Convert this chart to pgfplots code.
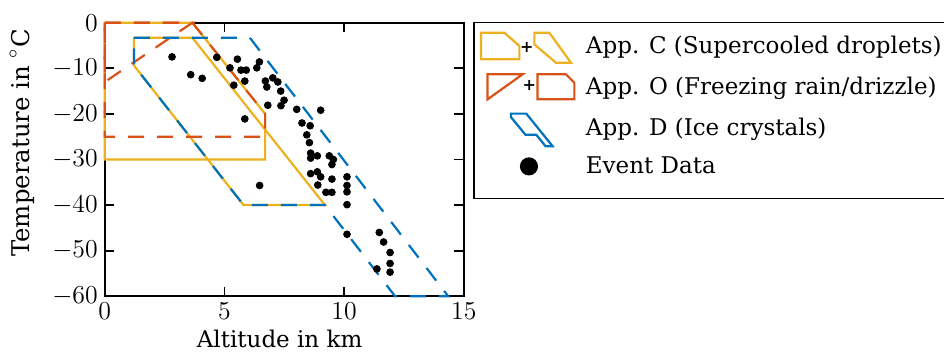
\RequirePackage{fix-cm}
\documentclass[border=0pt]{standalone}
\usepackage{fontspec}
\setmainfont{DejaVu Serif}
\usepackage{pgfplots}
\pgfplotsset{compat=1.18}

\definecolor{appC}{rgb}{0.929,0.694,0.125}
\definecolor{appO}{rgb}{0.850,0.325,0.098}
\definecolor{appD}{rgb}{0,0.447,0.741}

% observed icing events: altitude (km), temperature (deg C)
\pgfplotstableread{
x y
2.81 -7.5
3.59 -11.4
4.07 -12.2
4.68 -7.6
5.54 -8.0
5.23 -9.9
5.69 -10.4
5.91 -10.4
6.35 -9.9
6.46 -8.6
5.85 -12.8
5.39 -13.7
6.71 -12.8
7.02 -12.1
7.23 -13.0
6.77 -14.1
7.35 -15.0
7.49 -17.0
7.36 -18.2
6.81 -18.1
8.02 -19.0
9.02 -19.2
8.24 -22.0
8.58 -22.6
8.44 -24.6
8.55 -26.3
8.60 -28.6
8.60 -29.7
8.88 -29.2
9.38 -29.2
9.55 -30.0
9.49 -31.1
8.60 -33.1
8.88 -32.7
9.02 -33.8
9.49 -34.3
8.90 -35.6
9.24 -37.2
9.49 -37.2
10.12 -33.8
10.12 -35.7
10.12 -37.1
10.12 -39.9
10.12 -46.4
11.47 -46.0
11.65 -48.1
11.92 -50.4
11.92 -52.8
11.92 -54.7
11.37 -54.0
6.47 -35.7
5.85 -21.1
}\eventdata

\tikzset{envline/.style={line width=1.1pt, line join=miter},
         envdash/.style={line width=1.1pt, dash pattern=on 8pt off 6.5pt},
         iconbox/.style={draw=none, fill=none},
         plussign/.style={black, font=\footnotesize\bfseries, inner sep=0pt, anchor=center}}

\begin{document}
\begin{tikzpicture}
\path[use as bounding box] (-52.4pt,-30.35pt) rectangle (419.6pt,148.15pt);
\begin{axis}[
  scale only axis, width=179.5pt, height=136.8pt,
  xmin=0, xmax=15, ymin=-60, ymax=0,
  xtick={0,5,10,15}, ytick={-60,-50,-40,-30,-20,-10,0},
  tick align=inside, major tick length=4.7pt,
  axis line style={line width=0.9pt},
  every tick/.style={black, line width=0.9pt},
  clip=false,
  tick label style={font=\fontsize{12.9}{15}\selectfont},
  xlabel={Altitude in $\mathrm{km}$},
  ylabel={Temperature in $^\circ\mathrm{C}$},
  every axis x label/.style={at={(axis description cs:0.487,-0.155)}, anchor=center,
    font=\fontsize{11.5}{14}\selectfont},
  every axis y label/.style={at={(axis description cs:-0.2306,0.56)}, rotate=90, anchor=center,
    font=\fontsize{12.2}{14}\selectfont},
  legend style={at={(1.0265,1.0037)}, anchor=north west, draw=black,
    line width=0.65pt, font=\fontsize{11.5}{14}\selectfont,
    inner xsep=2pt, inner ysep=3pt, row sep=2.5pt},
  legend cell align=left,
]
% App. C envelopes (continuous and intermittent maximum)
\addplot[appC, envline, forget plot] coordinates {(0,0) (3.66,0) (6.7,-20) (6.7,-30) (0,-30)} --cycle;
\addplot[appC, envline, forget plot] coordinates {(1.22,-3.3) (3.66,-3.3) (9.2,-40) (5.8,-40) (1.22,-9.4)} --cycle;
% App. O envelopes
\addplot[appO, envdash, forget plot] coordinates {(0,0) (3.66,0) (0,-13)} --cycle;
\addplot[appO, envdash, forget plot] coordinates {(0,0) (3.66,0) (6.7,-20) (6.7,-25) (0,-25)} --cycle;
% App. D envelope
\addplot[appD, envdash, forget plot] coordinates {(1.22,-3.3) (6.06,-3.3) (14.35,-60) (12.13,-60) (9.2,-40) (5.8,-40) (1.22,-9.4)} --cycle;
% events
\addplot[only marks, mark=*, mark size=1.7pt, black, forget plot] table[x=x, y=y] {\eventdata};

\addlegendimage{legend image code/.code={
  \path[iconbox] (-1.5pt,-9pt) rectangle (50.5pt,9pt);
  \draw[appC, line width=1.1pt] (0pt,6.8pt) -- (11.7pt,6.8pt) -- (19.2pt,0.2pt) -- (19.2pt,-6.5pt) -- (0pt,-6.5pt) -- cycle;
  \node[plussign] at (22.9pt,-1.3pt) {+};
  \draw[appC, line width=1.1pt] (26.7pt,6.8pt) -- (34.2pt,6.8pt) -- (45pt,-8.2pt) -- (37.5pt,-8.2pt) -- (26.7pt,1pt) -- cycle;
}}
\addlegendentry{App. C (Supercooled droplets)}
\addlegendimage{legend image code/.code={
  \path[iconbox] (-1.5pt,-9pt) rectangle (50.5pt,9pt);
  \draw[appO, line width=1.1pt] (3.3pt,6.5pt) -- (20.8pt,6.5pt) -- (3.3pt,-6pt) -- cycle;
  \node[plussign] at (24.2pt,0pt) {+};
  \draw[appO, line width=1.1pt] (28.3pt,6.5pt) -- (42.5pt,6.5pt) -- (46.7pt,2.3pt) -- (46.7pt,-6pt) -- (28.3pt,-6pt) -- cycle;
}}
\addlegendentry{App. O (Freezing rain/drizzle)}
\addlegendimage{legend image code/.code={
  \path[iconbox] (-1.5pt,-9pt) rectangle (50.5pt,9pt);
  \begin{scope}[shift={(15pt,7.35pt)}, x=1.588pt, y=0.288pt]
    \draw[appD, line width=1.1pt] (0,0) -- (4.84,0) -- (13.13,-56.7) -- (10.91,-56.7) -- (7.98,-36.7) -- (4.58,-36.7) -- (0,-6.1) -- cycle;
  \end{scope}
}}
\addlegendentry{App. D (Ice crystals)}
\addlegendimage{legend image code/.code={
  \path[iconbox] (-1.5pt,-13pt) rectangle (50.5pt,7pt);
  \fill[black] (24pt,0pt) circle (4.2pt);
}}
\addlegendentry{Event Data}
\end{axis}
\end{tikzpicture}
\end{document}
